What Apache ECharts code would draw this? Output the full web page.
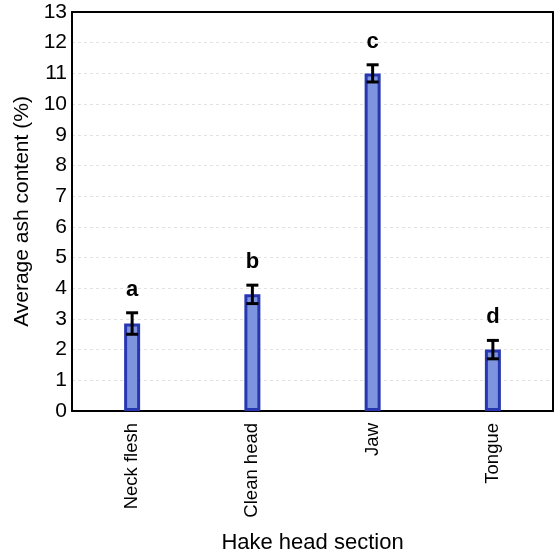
<!DOCTYPE html>
<html>
<head>
<meta charset="utf-8">
<script src="https://cdn.jsdelivr.net/npm/echarts@6/dist/echarts.min.js"></script>
<style>html,body{margin:0;padding:0;background:#fff;}#c{width:555px;height:559px;}</style>
</head>
<body>
<div id="c"></div>
<script>
const categories = ['Neck flesh', 'Clean head', 'Jaw', 'Tongue'];
const means = [2.85, 3.8, 11.0, 2.0];
const errors = [0.35, 0.3, 0.28, 0.3];
const letters = ['a', 'b', 'c', 'd'];
const yTicks = [0,1,2,3,4,5,6,7,8,9,10,11,12,13];

const errData = means.map((m, i) => [i, m - errors[i], m + errors[i], letters[i]]);
const FONT = 'Liberation Sans, Arial, sans-serif';

const chart = echarts.init(document.getElementById('c'));
chart.setOption({
  animation: false,
  backgroundColor: '#fff',
  textStyle: { fontFamily: FONT },
  grid: { left: 72, right: 2, top: 12, bottom: 146, show: false, containLabel: false },
  xAxis: [{
    type: 'category',
    data: categories,
    name: 'Hake head section',
    nameLocation: 'middle',
    nameGap: 121,
    nameTextStyle: { fontSize: 22, color: '#000' },
    axisLine: { show: true, onZero: false, lineStyle: { color: '#000', width: 2 } },
    axisTick: { show: false },
    axisLabel: { rotate: 90, fontSize: 18.5, color: '#000', margin: 12 }
  }, {
    type: 'category',
    position: 'top',
    data: categories,
    axisLine: { show: true, onZero: false, lineStyle: { color: '#000', width: 2 } },
    axisTick: { show: false },
    axisLabel: { show: false }
  }],
  yAxis: [{
    type: 'value',
    min: yTicks[0],
    max: yTicks[yTicks.length - 1],
    interval: 1,
    name: 'Average ash content (%)',
    nameLocation: 'middle',
    nameGap: 38,
    nameTextStyle: { fontSize: 21, color: '#000' },
    axisLine: { show: true, onZero: false, lineStyle: { color: '#000', width: 2 } },
    axisTick: { show: false },
    axisLabel: { fontSize: 21, color: '#000', margin: 5 },
    splitLine: { show: true, showMinLine: false, showMaxLine: false, lineStyle: { color: '#e2e2e2', type: [3, 3], width: 1 } }
  }, {
    type: 'value',
    position: 'right',
    min: yTicks[0],
    max: yTicks[yTicks.length - 1],
    interval: 1,
    axisLine: { show: true, onZero: false, lineStyle: { color: '#000', width: 2 } },
    axisTick: { show: false },
    axisLabel: { show: false },
    splitLine: { show: false }
  }],
  series: [
    {
      type: 'bar',
      data: means,
      barWidth: 16,
      itemStyle: { color: '#7e94df', borderColor: '#2637b0', borderWidth: 3 }
    },
    {
      type: 'custom',
      data: errData,
      z: 10,
      renderItem: function (params, api) {
        const x = api.coord([api.value(0), 0])[0];
        const lo = api.coord([api.value(0), api.value(1)])[1];
        const hi = api.coord([api.value(0), api.value(2)])[1];
        const hw = 6;
        const st = { stroke: '#000', lineWidth: 3 };
        return {
          type: 'group',
          children: [
            { type: 'line', shape: { x1: x, y1: lo, x2: x, y2: hi }, style: st },
            { type: 'line', shape: { x1: x - hw, y1: hi, x2: x + hw, y2: hi }, style: st },
            { type: 'line', shape: { x1: x - hw, y1: lo, x2: x + hw, y2: lo }, style: st },
            { type: 'text', x: x, y: hi - 23, style: { text: api.value(3), fill: '#000', fontSize: 22, fontWeight: 'bold', fontFamily: FONT, align: 'center', verticalAlign: 'middle' } }
          ]
        };
      }
    }
  ]
});
</script>
</body>
</html>
